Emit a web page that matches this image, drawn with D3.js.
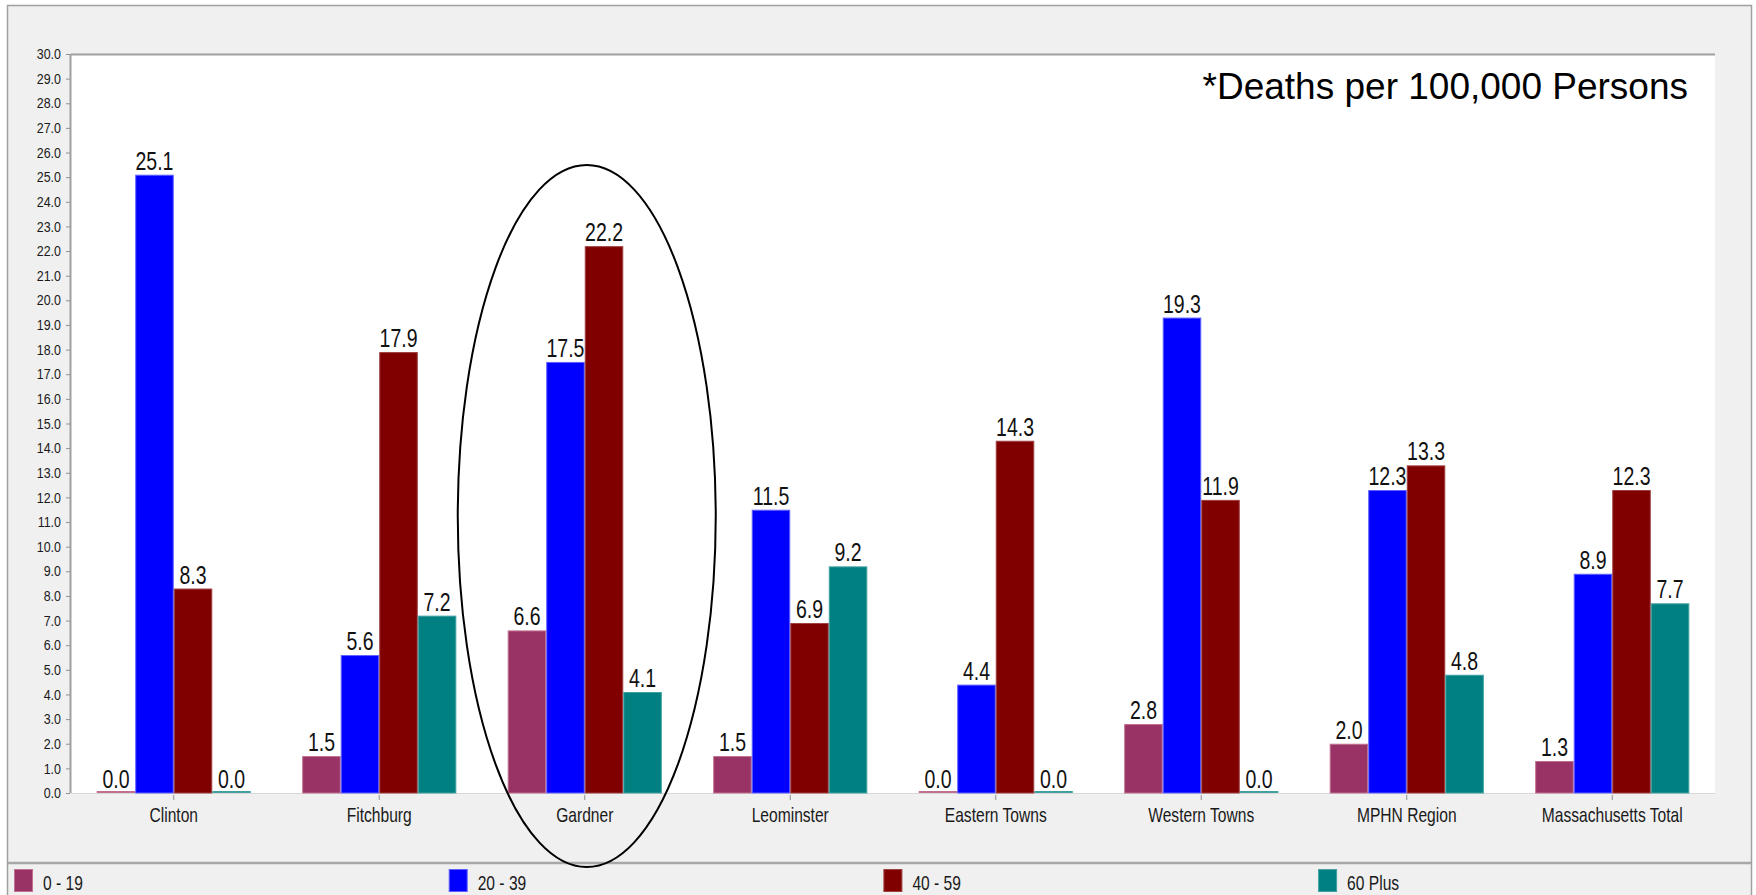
<!DOCTYPE html>
<html>
<head>
<meta charset="utf-8">
<script src="https://cdnjs.cloudflare.com/ajax/libs/d3/7.8.5/d3.min.js"></script>
<style>
  html, body { margin: 0; padding: 0; background: #ffffff; }
  svg { display: block; font-family: "Liberation Sans", Arial, sans-serif; }
</style>
</head>
<body>
<svg id="chart" width="1756" height="895"></svg>
<script>
// Death rates by age group (per 100,000 persons)
const categories = ["Clinton", "Fitchburg", "Gardner", "Leominster", "Eastern Towns", "Western Towns", "MPHN Region", "Massachusetts Total"];
const seriesNames = ["0 - 19", "20 - 39", "40 - 59", "60 Plus"];
const age0to19   = [0.0, 1.5, 6.6, 1.5, 0.0, 2.8, 2.0, 1.3];
const age20to39  = [25.1, 5.6, 17.5, 11.5, 4.4, 19.3, 12.3, 8.9];
const age40to59  = [8.3, 17.9, 22.2, 6.9, 14.3, 11.9, 13.3, 12.3];
const age60plus  = [0.0, 7.2, 4.1, 9.2, 0.0, 0.0, 4.8, 7.7];
const yTickValues = d3.range(0, 31, 1);
const note = "*Deaths per 100,000 Persons";
const highlighted = "Gardner";

const seriesValues = [age0to19, age20to39, age40to59, age60plus];
const colors = ["#993366", "#0000ff", "#800000", "#008080"];
const edgeColors = ["#c07090", "#6060ff", "#a04040", "#40a0a0"];

const svg = d3.select("#chart");
const W = 1756, H = 895;
const plot = { left: 71, top: 54, right: 1715, bottom: 793 };
const sx = 0.78; // narrow glyph width used by this chart's text

// panel background
svg.append("rect").attr("x", 7.5).attr("y", 5.5).attr("width", 1744).attr("height", H)
  .attr("fill", "#f0f0f0").attr("stroke", "#a0a0a0").attr("stroke-width", 1.5);

// plot area
svg.append("rect").attr("x", plot.left).attr("y", plot.top)
  .attr("width", plot.right - plot.left).attr("height", plot.bottom - plot.top)
  .attr("fill", "#ffffff");

const x0 = d3.scaleBand().domain(categories).range([plot.left, plot.right]).paddingInner(0.25).paddingOuter(0.125);
const x1 = d3.scaleBand().domain(d3.range(seriesNames.length)).range([0, x0.bandwidth()]);
const y = d3.scaleLinear().domain([0, 30]).range([plot.bottom, plot.top]);

// plot borders
svg.append("line").attr("x1", plot.left).attr("x2", plot.right).attr("y1", plot.top + 0.5).attr("y2", plot.top + 0.5)
  .attr("stroke", "#a0a0a0").attr("stroke-width", 2);
svg.append("line").attr("x1", plot.left - 0.5).attr("x2", plot.left - 0.5).attr("y1", plot.top).attr("y2", plot.bottom)
  .attr("stroke", "#a0a0a0").attr("stroke-width", 2);

// y axis
const yAxis = svg.append("g").attr("transform", `translate(${plot.left - 1},0)`)
  .call(d3.axisLeft(y).tickValues(yTickValues).tickFormat(d3.format(".1f")).tickSize(4).tickPadding(5));
yAxis.select(".domain").remove();
yAxis.selectAll(".tick line").attr("stroke", "#909090");
yAxis.selectAll(".tick text")
  .attr("fill", "#1a1a1a").attr("font-size", 14.5)
  .attr("x", -9 / 0.86).attr("transform", "scale(0.86,1)");

// x axis
const xAxis = svg.append("g").attr("transform", `translate(0,${plot.bottom})`)
  .call(d3.axisBottom(x0).tickSize(7).tickPadding(0));
xAxis.select(".domain").attr("stroke", "#d8d8d8").attr("d", `M${plot.left},0.5H${plot.right}`);
xAxis.selectAll(".tick line").attr("stroke", "#909090").attr("y1", 2);
xAxis.selectAll(".tick text").remove();
xAxis.selectAll(".tick").append("text")
  .attr("fill", "#1a1a1a").attr("font-size", 20).attr("text-anchor", "middle")
  .attr("transform", `translate(0,29) scale(${sx},1)`)
  .text(d => d);

// bars
const groups = svg.append("g").selectAll("g").data(categories).join("g")
  .attr("transform", d => `translate(${x0(d)},0)`);

groups.each(function(cat, ci) {
  const g = d3.select(this);
  seriesValues.forEach((vals, si) => {
    const v = vals[ci];
    const bx = x1(si), bw = x1.bandwidth();
    if (v > 0) {
      g.append("rect").attr("x", bx + 0.5).attr("y", y(v) + 0.5)
        .attr("width", bw - 1).attr("height", y(0) - y(v) - 0.5)
        .attr("fill", colors[si]).attr("stroke", edgeColors[si]).attr("stroke-width", 1);
    } else {
      g.append("rect").attr("x", bx).attr("y", y(0) - 2)
        .attr("width", bw).attr("height", 2)
        .attr("fill", edgeColors[si]);
    }
    g.append("text")
      .attr("transform", `translate(${bx + bw / 2},${y(v) - 5}) scale(${sx},1)`)
      .attr("text-anchor", "middle").attr("font-size", 25).attr("fill", "#111")
      .text(d3.format(".1f")(v));
  });
});

// note
svg.append("text").attr("x", 1688).attr("y", 99).attr("text-anchor", "end")
  .attr("font-size", 37).attr("fill", "#000").text(note);

// legend
svg.append("line").attr("x1", 8).attr("x2", 1751).attr("y1", 863).attr("y2", 863)
  .attr("stroke", "#a8a8a8").attr("stroke-width", 2.5);
const legend = svg.append("g").selectAll("g").data(seriesNames).join("g")
  .attr("transform", (d, i) => `translate(${14 + i * 434.7},0)`);
legend.append("rect").attr("x", 0.5).attr("y", 869.5).attr("width", 18).attr("height", 22)
  .attr("fill", (d, i) => colors[i]).attr("stroke", (d, i) => edgeColors[i]);
legend.append("text")
  .attr("transform", `translate(29,890) scale(${sx},1)`)
  .attr("font-size", 20).attr("fill", "#1a1a1a").text(d => d);

// highlight ring around one community
const hx = x0(highlighted) + x0.bandwidth() / 2 + 2;
svg.append("ellipse").attr("cx", hx).attr("cy", 516).attr("rx", 129).attr("ry", 351)
  .attr("fill", "none").attr("stroke", "#000").attr("stroke-width", 2);
</script>
</body>
</html>
